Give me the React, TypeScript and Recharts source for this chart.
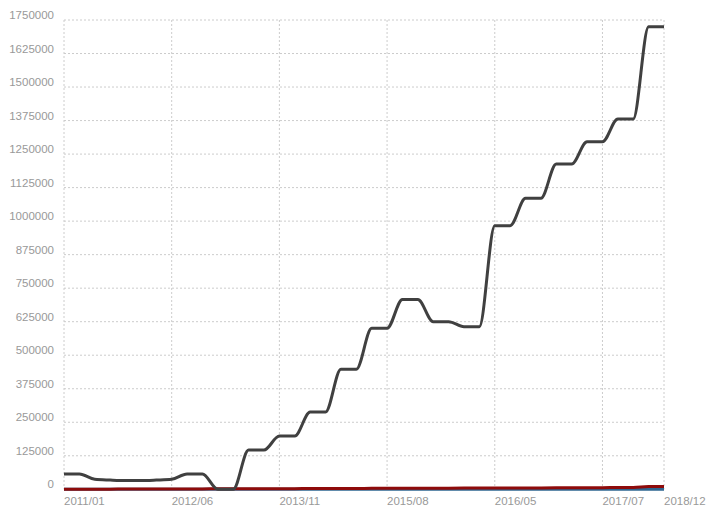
import React from 'react';
import { LineChart, Line, XAxis, YAxis, CartesianGrid } from 'recharts';

const tickIndex = [0, 7, 14, 21, 28, 35, 39];
const tickLabels = ['2011/01', '2012/06', '2013/11', '2015/08', '2016/05', '2017/07', '2018/12'];
const yTicks = [0, 125000, 250000, 375000, 500000, 625000, 750000, 875000, 1000000, 1125000, 1250000, 1375000, 1500000, 1625000, 1750000];

const seriesTotal = [
  57000, 57000, 37300, 34500, 32800, 32800, 34500, 37300, 57000, 57000,
  0, 0, 146500, 146500, 198800, 198800, 288200, 288200, 447500, 447500,
  600400, 600400, 707900, 707900, 625000, 625000, 606300, 606300, 983000, 983000,
  1085100, 1085100, 1213000, 1213000, 1296200, 1296200, 1380800, 1380800, 1725000, 1725000,
];
const seriesRed = [
  300, 300, 600, 600, 900, 900, 1200, 1200, 1500, 1500,
  1800, 1800, 2100, 2100, 2400, 2400, 2800, 2800, 3200, 3200,
  3500, 3500, 3800, 3800, 4100, 4100, 4400, 4400, 4800, 4800,
  5200, 5200, 5600, 5600, 6200, 6200, 7000, 7000, 10500, 10500,
];
const seriesBlue = [
  0, 0, 0, 0, 0, 0, 0, 0, 0, 0,
  0, 0, 0, 0, 0, 0, 0, 0, 0, 0,
  0, 0, 0, 0, 0, 0, 0, 0, 0, 0,
  0, 0, 0, 0, 0, 0, 0, 0, 0, 0,
];

const data = seriesTotal.map((v, i) => ({ idx: i, total: v, red: seriesRed[i], blue: seriesBlue[i] }));

const FONT = '"Liberation Sans", Arial, sans-serif';
const TEXT = '#999999';

const XTick = (props: any) => {
  const { x, y, payload } = props;
  const pos = tickIndex.indexOf(payload.value);
  const label = pos >= 0 ? tickLabels[pos] : '';
  return (
    <text x={x} y={y + 16} textAnchor="start" fontFamily={FONT} fontSize={11.5} fill={TEXT}>
      {label}
    </text>
  );
};

const YTick = (props: any) => {
  const { x, y, payload } = props;
  return (
    <text x={x} y={y - 1} textAnchor="end" fontFamily={FONT} fontSize={11.5} fill={TEXT}>
      {payload.value}
    </text>
  );
};

export default function App() {
  return (
    <div style={{ position: 'absolute', left: 0, top: 0, width: 718, height: 526, background: '#fff' }}>
      <LineChart width={718} height={526} data={data} margin={{ top: 20, right: 54, bottom: 6.7, left: 0 }}>
        <CartesianGrid stroke="#cccccc" strokeDasharray="2 2" />
        <XAxis
          dataKey="idx"
          type="number"
          domain={[0, 39]}
          ticks={tickIndex}
          interval={0}
          height={30}
          axisLine={false}
          tickLine={false}
          tickSize={0}
          tickMargin={0}
          tick={<XTick />}
        />
        <YAxis
          type="number"
          domain={[0, 1750000]}
          ticks={yTicks}
          interval={0}
          width={64}
          axisLine={false}
          tickLine={false}
          tickSize={0}
          tickMargin={10}
          tick={<YTick />}
        />
        <Line type="monotone" dataKey="blue" stroke="#2e6690" strokeWidth={3} dot={false} isAnimationActive={false} />
        <Line type="monotone" dataKey="red" stroke="#8e0b0b" strokeWidth={3} dot={false} isAnimationActive={false} />
        <Line type="monotone" dataKey="total" stroke="#404040" strokeWidth={3} dot={false} isAnimationActive={false} />
      </LineChart>
    </div>
  );
}
